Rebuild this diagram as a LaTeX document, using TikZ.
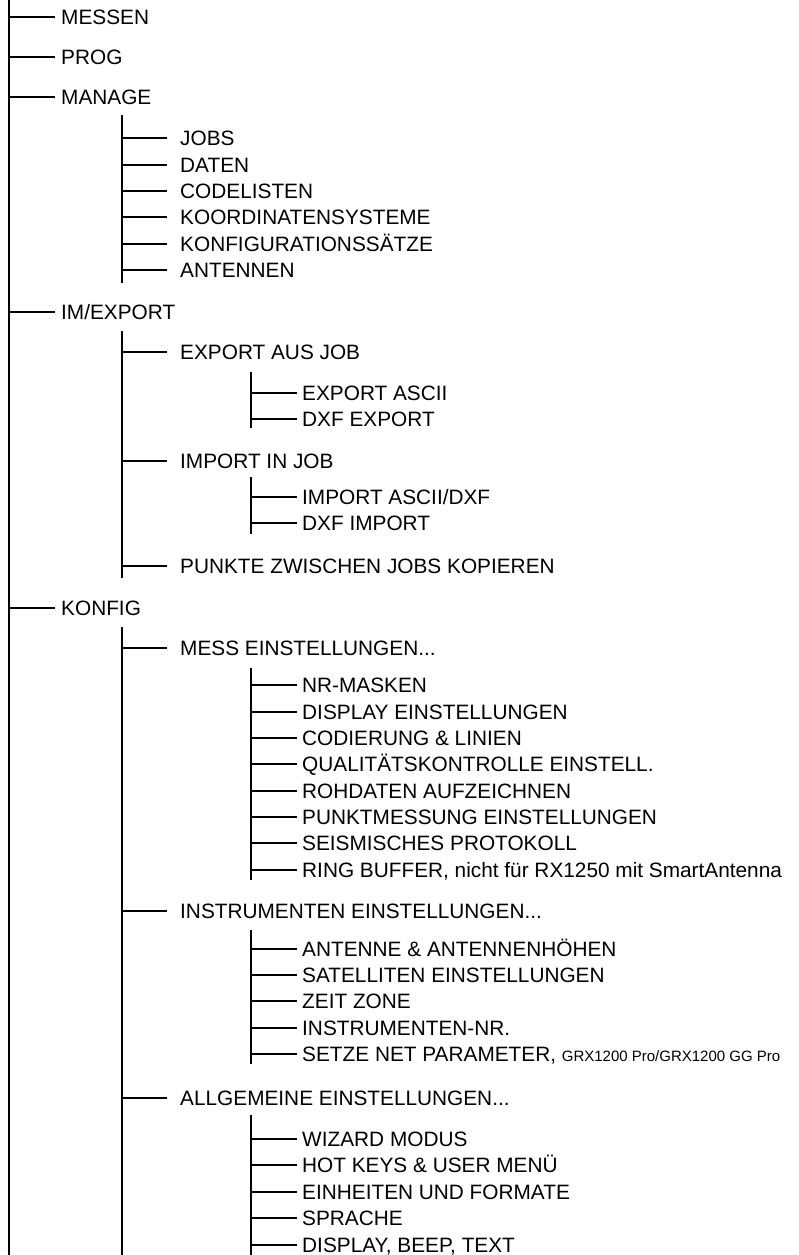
\documentclass[tikz,border=0pt]{standalone}
\usepackage{fontspec}
\setmainfont{Liberation Sans}
\begin{document}
\begin{tikzpicture}[x=1pt,y=-1pt,
  itm/.style={anchor=west,inner sep=0pt,text height=14.9pt,text depth=0pt,font=\fontsize{20.8}{24}\selectfont},
  conn/.style={line width=1.3pt,black},
  vline/.style={line width=1.6pt,black}]
\useasboundingbox (0,0) rectangle (798,1255);
% level 1
\coordinate (v1t) at (9,0);
\coordinate (v1b) at (9,1255);
\draw[vline] (v1t) -- (v1b);
\node[itm] (messen) at (61,17) {MESSEN};
\node[itm] (prog) at (61,57) {PROG};
\node[itm] (manage) at (61,97) {MANAGE};
\node[itm] (imex) at (61,312) {IM/EXPORT};
\node[itm] (konfig) at (61,608) {KONFIG};
\foreach \n in {messen,prog,manage,imex,konfig}
  \draw[conn] (v1t |- \n.west) -- ([xshift=-6pt]\n.west);
% MANAGE group
\coordinate (v2at) at (122,115);
\coordinate (v2ab) at (122,283);
\draw[vline] (v2at) -- (v2ab);
\node[itm] (jobs) at (180,138) {JOBS};
\node[itm] (daten) at (180,165) {DATEN};
\node[itm] (codel) at (180,191) {CODELISTEN};
\node[itm] (koord) at (180,217) {KOORDINATENSYSTEME};
\node[itm] (konfs) at (180,244) {KONFIGURATIONSSÄTZE};
\node[itm] (ant) at (180,270) {ANTENNEN};
\foreach \n in {jobs,daten,codel,koord,konfs,ant}
  \draw[conn] (v2at |- \n.west) -- ([xshift=-13pt]\n.west);
% IM/EXPORT group
\coordinate (v2bt) at (122,331);
\coordinate (v2bb) at (122,578);
\draw[vline] (v2bt) -- (v2bb);
\node[itm] (expjob) at (180,352) {EXPORT AUS JOB};
\node[itm] (impjob) at (180,461) {IMPORT IN JOB};
\node[itm] (punkte) at (180,566) {PUNKTE ZWISCHEN JOBS KOPIEREN};
\foreach \n in {expjob,impjob,punkte}
  \draw[conn] (v2bt |- \n.west) -- ([xshift=-13pt]\n.west);
\coordinate (v3at) at (251,372);
\coordinate (v3ab) at (251,428);
\draw[vline] (v3at) -- (v3ab);
\node[itm] (expascii) at (302,393) {EXPORT ASCII};
\node[itm] (dxfexp) at (302,419) {DXF EXPORT};
\foreach \n in {expascii,dxfexp}
  \draw[conn] (v3at |- \n.west) -- ([xshift=-5pt]\n.west);
\coordinate (v3bt) at (251,477);
\coordinate (v3bb) at (251,534);
\draw[vline] (v3bt) -- (v3bb);
\node[itm] (impascii) at (302,497) {IMPORT ASCII/DXF};
\node[itm] (dxfimp) at (302,523) {DXF IMPORT};
\foreach \n in {impascii,dxfimp}
  \draw[conn] (v3bt |- \n.west) -- ([xshift=-5pt]\n.west);
% KONFIG group
\coordinate (v2ct) at (122,627);
\coordinate (v2cb) at (122,1255);
\draw[vline] (v2ct) -- (v2cb);
\node[itm] (messe) at (180,648) {MESS EINSTELLUNGEN...};
\node[itm] (inste) at (180,911) {INSTRUMENTEN EINSTELLUNGEN...};
\node[itm] (allge) at (180,1098) {ALLGEMEINE EINSTELLUNGEN...};
\foreach \n in {messe,inste,allge}
  \draw[conn] (v2ct |- \n.west) -- ([xshift=-13pt]\n.west);
% MESS sub
\coordinate (v3ct) at (251,668);
\coordinate (v3cb) at (251,880);
\draw[vline] (v3ct) -- (v3cb);
\node[itm] (nrm) at (302,685) {NR-MASKEN};
\node[itm] (disp) at (302,712) {DISPLAY EINSTELLUNGEN};
\node[itm] (cod) at (302,738) {CODIERUNG \& LINIEN};
\node[itm] (qual) at (302,764) {QUALITÄTSKONTROLLE EINSTELL.};
\node[itm] (roh) at (302,791) {ROHDATEN AUFZEICHNEN};
\node[itm] (pktm) at (302,817) {PUNKTMESSUNG EINSTELLUNGEN};
\node[itm] (seis) at (302,843) {SEISMISCHES PROTOKOLL};
\node[itm] (ring) at (302,870) {RING BUFFER, nicht für RX1250 mit SmartAntenna};
\foreach \n in {nrm,disp,cod,qual,roh,pktm,seis,ring}
  \draw[conn] (v3ct |- \n.west) -- ([xshift=-5pt]\n.west);
% INSTRUMENTEN sub
\coordinate (v3dt) at (251,930);
\coordinate (v3db) at (251,1064);
\draw[vline] (v3dt) -- (v3db);
\node[itm] (anth) at (302,949) {ANTENNE \& ANTENNENHÖHEN};
\node[itm] (sat) at (302,975) {SATELLITEN EINSTELLUNGEN};
\node[itm] (zeit) at (302,1001) {ZEIT ZONE};
\node[itm] (instnr) at (302,1028) {INSTRUMENTEN-NR.};
\node[itm] (setze) at (302,1054) {SETZE NET PARAMETER, {\fontsize{15}{17}\selectfont GRX1200 Pro/GRX1200 GG Pro}};
\foreach \n in {anth,sat,zeit,instnr,setze}
  \draw[conn] (v3dt |- \n.west) -- ([xshift=-5pt]\n.west);
% ALLGEMEINE sub
\coordinate (v3et) at (251,1115);
\coordinate (v3eb) at (251,1255);
\draw[vline] (v3et) -- (v3eb);
\node[itm] (wiz) at (302,1139) {WIZARD MODUS};
\node[itm] (hot) at (302,1165) {HOT KEYS \& USER MENÜ};
\node[itm] (einh) at (302,1192) {EINHEITEN UND FORMATE};
\node[itm] (spr) at (302,1218) {SPRACHE};
\node[itm] (dbt) at (302,1245) {DISPLAY, BEEP, TEXT};
\foreach \n in {wiz,hot,einh,spr,dbt}
  \draw[conn] (v3et |- \n.west) -- ([xshift=-5pt]\n.west);
\end{tikzpicture}
\end{document}
